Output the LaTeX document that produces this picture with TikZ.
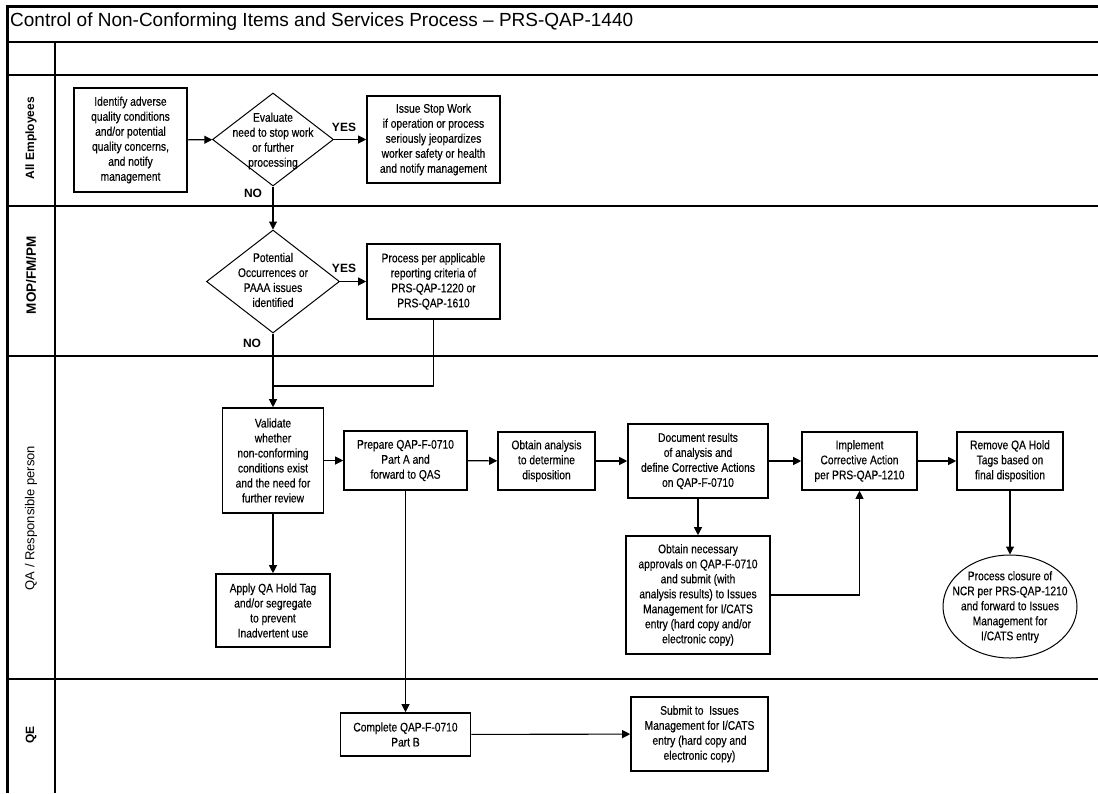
\documentclass[tikz,border=0pt]{standalone}
\usepackage{fontspec}
\setmainfont{Liberation Sans}
\newfontfamily\narrowfont[FakeStretch=0.82,FakeBold=0.3]{Liberation Sans}
\usetikzlibrary{arrows.meta,shapes.geometric}

\begin{document}
\begin{tikzpicture}[x=1pt,y=-1pt,
  box/.style={draw,line width=1.6pt,align=center,inner sep=1pt,font=\narrowfont\fontsize{12.5}{15}\selectfont},
  dia/.style={draw,diamond,line width=1pt,inner sep=0pt},
  txt/.style={align=center,inner sep=0pt,font=\narrowfont\fontsize{12.5}{15}\selectfont},
  lane/.style={rotate=90,inner sep=0pt},
  yesno/.style={font=\bfseries\fontsize{12}{14}\selectfont,inner sep=0pt},
  flow/.style={line width=1.1pt,-{Triangle[length=8pt,width=8pt]}},
  plain/.style={line width=1.1pt}]
\useasboundingbox[fill=white] (0,0) rectangle (1098,793);

% frame and lanes
\draw[line width=3pt] (7,793) -- (7,6) -- (1098,6);
\draw[line width=1.8pt] (7,42) -- (1098,42);
\draw[line width=1.8pt] (7,75) -- (1098,75);
\draw[line width=1.8pt] (7,206) -- (1098,206);
\draw[line width=1.8pt] (7,356) -- (1098,356);
\draw[line width=1.8pt] (7,679) -- (1098,679);
\draw[line width=1.4pt] (55,42) -- (55,793);

\node[anchor=west,inner sep=0pt,font=\fontsize{19}{21}\selectfont] (title) at (10,22) {Control of Non-Conforming Items and Services Process – PRS-QAP-1440};

\node[lane,font=\bfseries\fontsize{12}{14}\selectfont] (lnall) at (31,138) {All Employees};
\node[lane,font=\bfseries\fontsize{13.5}{15}\selectfont] (lnmop) at (31,275) {MOP/FM/PM};
\node[lane,font=\fontsize{13}{15}\selectfont] (lnqa) at (31,518) {QA / Responsible person};
\node[lane,font=\bfseries\fontsize{12}{14}\selectfont] (lnqe) at (31,735) {QE};

% all employees
\node[box,minimum width=113pt,minimum height=104pt] (ident) at (130.5,140) {Identify adverse\\quality conditions\\and/or potential\\quality concerns,\\and notify\\management};
\node[dia,minimum width=121pt,minimum height=93pt] (eval) at (273,139.5) {};
\node[txt] (evaltxt) at (273,141) {Evaluate\\need to stop work\\or further\\processing};
\node[box,minimum width=133pt,minimum height=87pt] (issue) at (433.5,139.5) {Issue Stop Work\\if operation or process\\seriously jeopardizes\\worker safety or health\\and notify management};

% MOP/FM/PM
\node[dia,minimum width=133pt,minimum height=103pt] (pot) at (273,281.5) {};
\node[txt] (pottxt) at (273,280) {Potential\\Occurrences or\\PAAA issues\\identified};
\node[box,minimum width=133pt,minimum height=75pt] (proc) at (433.5,281.5) {Process per applicable\\reporting criteria of\\PRS-QAP-1220 or\\PRS-QAP-1610};

% QA / responsible person
\node[box,minimum width=101pt,minimum height=105pt] (valid) at (273,460.5) {Validate\\whether\\non-conforming\\conditions exist\\and the need for\\further review};
\node[box,minimum width=114pt,minimum height=73pt] (apply) at (273,610.5) {Apply QA Hold Tag\\and/or segregate\\to prevent\\Inadvertent use};
\node[box,minimum width=123pt,minimum height=59pt] (prep) at (405.5,460.5) {Prepare QAP-F-0710\\Part A and\\forward to QAS};
\node[box,minimum width=97pt,minimum height=58pt] (obt) at (546.5,461) {Obtain analysis\\to determine\\disposition};
\node[box,minimum width=140pt,minimum height=74pt] (doc) at (698,461) {Document results\\of analysis and\\define Corrective Actions\\on QAP-F-0710};
\node[box,minimum width=115pt,minimum height=58pt] (impl) at (859.5,461) {Implement\\Corrective Action\\per PRS-QAP-1210};
\node[box,minimum width=106pt,minimum height=58pt] (remove) at (1010,461) {Remove QA Hold\\Tags based on\\final disposition};
\node[box,minimum width=144pt,minimum height=118pt] (need) at (698,595) {Obtain necessary\\approvals on QAP-F-0710\\and submit (with\\analysis results) to Issues\\Management for I/CATS\\entry (hard copy and/or\\electronic copy)};
\node[draw,ellipse,line width=1pt,minimum width=134pt,minimum height=103pt,inner sep=0pt] (close) at (1010,606.5) {};
\node[txt] (closetxt) at (1010,607) {Process closure of\\NCR per PRS-QAP-1210\\and forward to Issues\\Management for\\I/CATS entry};

% QE
\node[box,minimum width=130pt,minimum height=43pt] (compl) at (405.5,734.5) {Complete QAP-F-0710\\Part B};
\node[box,minimum width=137pt,minimum height=74pt] (submit) at (699.5,734) {Submit to\ \ Issues\\Management for I/CATS\\entry (hard copy and\\electronic copy)};

% connectors
\draw[flow] (ident) -- (eval);
\draw[flow] (eval) -- (issue);
\node[yesno] (yes1) at (344,127) {YES};
\draw[flow] (eval.south) -- (pot.north);
\node[yesno] (no1) at (253,193) {NO};
\draw[flow] (pot) -- (proc);
\node[yesno] (yes2) at (344,268) {YES};
\node[yesno] (no2) at (252,343) {NO};
\coordinate (join) at (273,386);
\draw[plain] (proc.south) |- (join);
\draw[flow] (pot.south) -- (valid.north);
\draw[flow] (valid) -- (prep);
\draw[flow] (valid.south) -- (apply.north);
\draw[flow] (prep) -- (obt);
\draw[flow] (obt) -- (doc);
\draw[flow] (doc) -- (impl);
\draw[flow] (impl) -- (remove);
\draw[flow] (doc.south) -- (need.north);
\draw[flow] (need.east) -| (impl.south);
\draw[flow] (remove.south) -- (close.north);
\draw[flow] (prep.south) -- (compl.north);
\draw[flow] (compl) -- (submit);
\end{tikzpicture}
\end{document}
